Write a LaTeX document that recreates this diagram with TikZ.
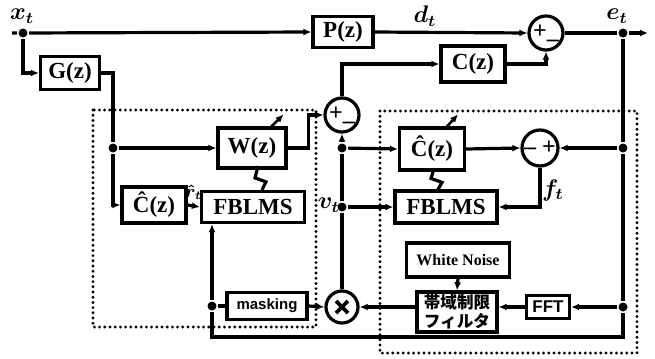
\documentclass[tikz,border=0pt]{standalone}
\usepackage{fontspec}
\setmainfont{Liberation Serif}
\setsansfont{Liberation Sans}
\newfontfamily\jpfont{Noto Sans CJK JP}
\usetikzlibrary{positioning,arrows.meta}

\begin{document}
\begin{tikzpicture}[x=0.5pt, y=-0.5pt, line width=1.6pt,
  font=\fontsize{11.5}{13}\selectfont\bfseries,
  blk/.style={draw, inner sep=1pt},
  sumc/.style={draw, circle, inner sep=0pt, minimum size=17pt, font=\fontsize{12}{13}\selectfont\bfseries},
  jn/.style={circle, fill, inner sep=0pt, minimum size=4.5pt},
  arr/.style={-{Latex[length=4pt, width=3.5pt]}},
  lbl/.style={font=\boldmath\fontsize{11.5}{13}\selectfont},
  frame/.style={line width=1.6pt, dash pattern=on 0pt off 2.6pt, line cap=round}]
\useasboundingbox (0,0) rectangle (655,359);

% blocks
\node[blk, minimum width=30pt, minimum height=15.5pt] (P) at (343,32) {P(z)};
\node[blk, minimum width=29.5pt, minimum height=16.5pt] (G) at (70,73) {G(z)};
\node[blk, minimum width=32pt, minimum height=18pt] (C) at (473,64) {C(z)};
\node[blk, minimum width=34pt, minimum height=20pt] (W) at (252,148) {W(z)};
\node[blk, minimum width=32pt, minimum height=18pt] (Chl) at (154,205) {\^{C}(z)};
\node[blk, minimum width=51.5pt, minimum height=15.5pt] (Fl) at (253,207) {FBLMS};
\node[blk, minimum width=32.5pt, minimum height=21pt] (Chr) at (432,149) {\^{C}(z)};
\node[blk, minimum width=51pt, minimum height=16pt] (Fr) at (446,207) {FBLMS};
\node[blk, minimum width=40pt, minimum height=13.5pt, font=\sffamily\bfseries\fontsize{7.5}{9}\selectfont] (mask) at (267,306) {masking};
\node[blk, minimum width=51.5pt, minimum height=17pt, font=\bfseries\fontsize{8}{10}\selectfont] (wn) at (458,260) {White Noise};
\node[blk, minimum width=40pt, minimum height=20pt, align=center, inner sep=0.5pt,
  font=\jpfont\bfseries\fontsize{8.3}{9.5}\selectfont] (bpf) at (457,312) {帯域制限\\フィルタ};
\node[blk, minimum width=21.5pt, minimum height=11.5pt, font=\sffamily\bfseries\fontsize{8.5}{10}\selectfont] (fft) at (548,307) {FFT};

% summing points
\node[sumc] (s1) at (546,33) {+\_};
\node[sumc] (s2) at (342,115) {+\_};
\node[sumc, minimum size=18pt] (s3) at (540,148) {-- +};
\node[sumc, minimum size=16pt] (mul) at (342,307) {};
\draw[line width=1.8pt] (mul) ++(-6,-6) -- ++(12,12);
\draw[line width=1.8pt] (mul) ++(6,-6) -- ++(-12,12);

% junctions
\node[jn] (xin) at (23,33) {};
\node[jn] (e) at (623,33) {};
\node[jn] (eB) at (623,148) {};
\node[jn] (eC) at (623,307) {};
\node[jn] (bG) at (113,148) {};
\node[jn] (vA) at (342,148) {};
\node[jn] (vB) at (342,207) {};
\node[jn] (mdot) at (212,306) {};
\coordinate (xs) at (12,33);
\coordinate (out) at (648,33);
\coordinate (br) at (623,337);

% labels
\node[lbl] at (22,16) {$x_t$};
\node[lbl] at (425,16) {$d_t$};
\node[lbl] at (617,16) {$e_t$};
\node[lbl] at (329,205) {$v_t$};
\node[lbl] at (553,190) {$f_t$};

% primary path
\draw[arr] (xs) -- (xin) -- (P.west);
\draw[arr] (P.east) -- (s1.west);
\draw[arr] (s1.east) -- (e) -- (out);
\draw[arr] (C.east) -| (s1.south);
\draw[arr] (s2.north) |- (C.west);

% left part
\draw[arr] (xin) |- (G.west);
\draw[arr] (G.east) -| (bG) |- (Chl.west);
\draw[arr] (bG) -- (W.west);
\draw[arr] (W.east) -- ++(21,0) |- (s2.west);
\draw[arr] (Chl.east) -- node[above=-1pt, lbl, font=\boldmath\fontsize{9}{10}\selectfont] {$\hat{r}_t$} (Fl.west);
\draw (262,0 |- Fl.north) -- ++(4,-8) -- ++(-11,-4) -- ++(3,-12);
\draw[arr, line width=1.3pt] (W.north east) ++(-17,1) -- ++(13,-13);

% v_t branch
\draw[arr] (mul.north) -- (vB) -- (vA) -- (s2.south);
\draw[arr] (vA) -- (Chr.west);
\draw[arr] (vB) -- (Fr.west);

% right part
\draw[arr] (Chr.east) -- (s3.west);
\draw[arr] (eB) -- (s3.east);
\draw[arr] (s3.south) |- (Fr.east);
\draw (438,0 |- Fr.north) -- ++(4,-7) -- ++(-11,-4) -- ++(3,-10);
\draw[arr, line width=1.3pt] (Chr.north east) ++(-20,1) -- ++(12,-13);
\draw[arr] (wn.south) -- (bpf.north);
\draw[arr] (eC) -- (fft.east);
\draw[arr] (fft.west) -- (fft.west -| bpf.east);
\draw[arr] (mul.east -| bpf.west) -- (mul.east);

% error feedback
\draw (e) -- (eB) -- (eC) -- (br) -| (mdot);
\draw[arr] (mdot) -- (mdot |- Fl.south);
\draw (mdot) -- (mask.west);
\draw[arr] (mask.east) -- (mul.west);

% dotted frames
\draw[frame] (93,110) rectangle (316,327);
\draw[frame] (380,111) rectangle (637,353);
\end{tikzpicture}
\end{document}
